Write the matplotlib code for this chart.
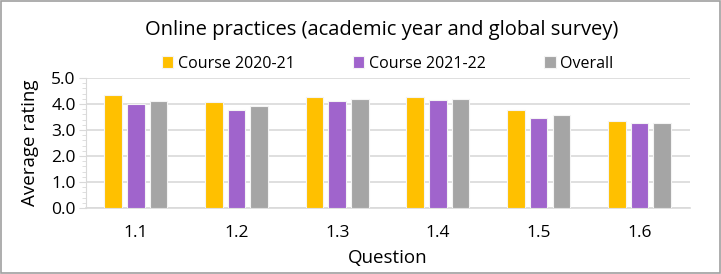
import numpy as np
import matplotlib.pyplot as plt
from matplotlib.ticker import MultipleLocator

questions = ['1.1', '1.2', '1.3', '1.4', '1.5', '1.6']
course_2020 = [4.33, 4.09, 4.26, 4.26, 3.76, 3.33]
course_2021 = [4.00, 3.79, 4.12, 4.17, 3.47, 3.26]
overall = [4.13, 3.91, 4.18, 4.21, 3.58, 3.29]

series = [('Course 2020-21', course_2020, '#FFC000'),
          ('Course 2021-22', course_2021, '#A064CC'),
          ('Overall', overall, '#A5A5A5')]

plt.rcParams['font.family'] = ['Open Sans', 'DejaVu Sans']

fig = plt.figure(figsize=(7.21, 2.74), dpi=100)
ax = fig.add_axes([0.1186, 0.241, 0.838, 0.474])

x = np.arange(len(questions))
bars = []
for i, (name, vals, col) in enumerate(series):
    b = ax.bar(x + (i - 1) * 0.225, vals, width=0.175, color=col,
               edgecolor='#f4f4f4', linewidth=0.8, label=name, zorder=3)
    bars.append(b)

ax.set_ylim(0, 5)
ax.set_xlim(-0.5, 5.5)
ax.yaxis.set_minor_locator(MultipleLocator(0.2))
ax.set_yticks(np.arange(0, 5.1, 1))
ax.set_yticklabels([f'{v:.1f}' for v in np.arange(0, 5.1, 1)])
ax.set_xticks(x)
ax.set_xticklabels(questions)
ax.grid(axis='y', color='#d9d9d9', linewidth=1.2, zorder=0)
for s in ['top', 'right']:
    ax.spines[s].set_visible(False)
ax.spines['left'].set_color('#d9d9d9')
ax.spines['bottom'].set_color('#d9d9d9')
ax.spines['bottom'].set_linewidth(1.2)
ax.tick_params(axis='y', which='major', length=5, color='#d9d9d9', labelsize=12.5, pad=2)
ax.tick_params(axis='y', which='minor', length=3, color='#d9d9d9')
ax.tick_params(axis='x', length=0, labelsize=12.5, pad=12)
ax.set_ylabel('Average rating', fontsize=13.5, labelpad=9)
ax.set_xlabel('Question', fontsize=13.5, labelpad=6)

fig.text(0.53, 0.89, 'Online practices (academic year and global survey)',
         ha='center', va='center', fontsize=14.5)

# one legend entry per slot, evenly spaced like the original
for b, (name, _, _), xpos in zip(bars, series, [0.225, 0.49, 0.755]):
    fig.legend([b], [name], loc='center left', bbox_to_anchor=(xpos, 0.767),
               frameon=False, fontsize=11.5, handlelength=0.7, handleheight=0.8,
               handletextpad=0.3, borderpad=0, borderaxespad=0)

fig.patches.append(plt.Rectangle((0.001, 0.002), 0.997, 0.995, transform=fig.transFigure,
                                 fill=False, edgecolor='#a0a0a0', linewidth=1.2))

fig.savefig('out.png', dpi=100)
